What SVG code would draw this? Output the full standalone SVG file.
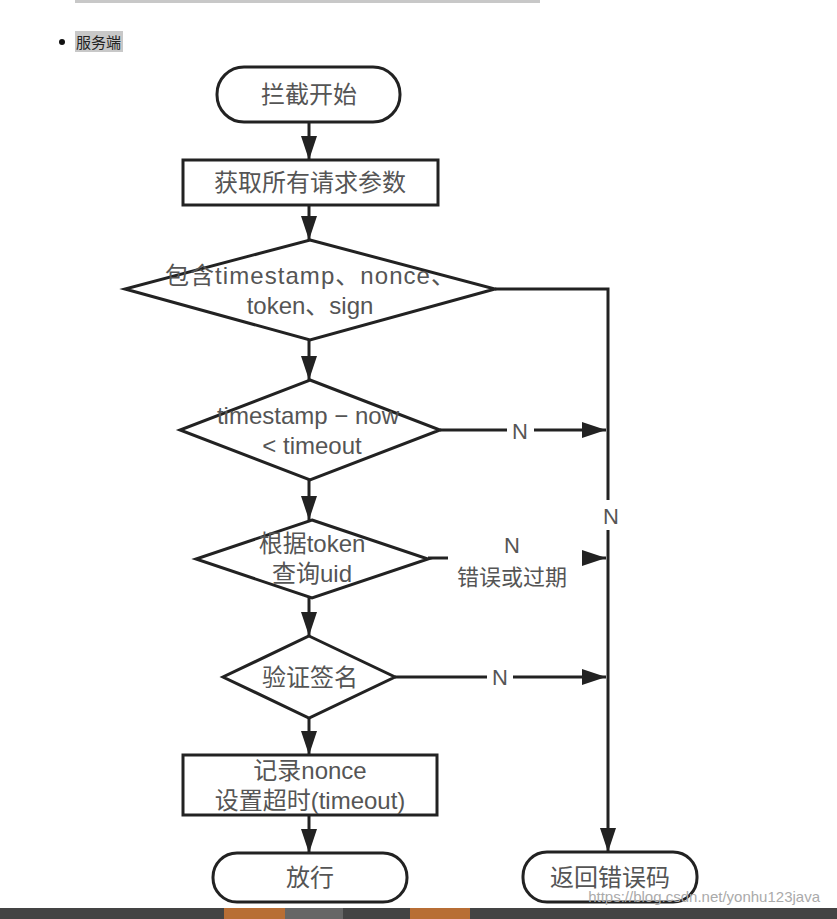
<svg xmlns="http://www.w3.org/2000/svg" width="837" height="919" viewBox="0 0 837 919">
<style>
.s{fill:#fff;stroke:#222;stroke-width:3}
.c{fill:none;stroke:#222;stroke-width:3}
.t{font-family:"Liberation Sans","Noto Sans CJK SC",sans-serif;font-size:24px;fill:#555;text-anchor:middle}
.l{font-family:"Liberation Sans","Noto Sans CJK SC",sans-serif;font-size:22px;fill:#555;text-anchor:middle}
</style>
<defs>
<marker id="a" markerUnits="userSpaceOnUse" markerWidth="24" markerHeight="18" refX="24" refY="9" orient="auto">
<path d="M0,1 L24,9 L0,17 z" fill="#222"/>
</marker>
</defs>
<rect width="837" height="919" fill="#fff"/>
<rect x="75" y="0" width="465" height="3" fill="#c8c8c8"/>
<circle cx="62" cy="42" r="3" fill="#111"/>
<rect x="75" y="31" width="48" height="21" fill="#c8c8c8"/>
<text x="76" y="48" style="font-family:'Noto Sans CJK SC',sans-serif;font-size:15px;fill:#222">服务端</text>

<g id="connectors">
<line class="c" x1="309" y1="122" x2="309" y2="160" marker-end="url(#a)"/>
<line class="c" x1="309" y1="205" x2="309" y2="240" marker-end="url(#a)"/>
<line class="c" x1="309" y1="340" x2="309" y2="380" marker-end="url(#a)"/>
<line class="c" x1="309" y1="480" x2="309" y2="520" marker-end="url(#a)"/>
<line class="c" x1="309" y1="598" x2="309" y2="636" marker-end="url(#a)"/>
<line class="c" x1="309" y1="718" x2="309" y2="755" marker-end="url(#a)"/>
<line class="c" x1="309" y1="815" x2="309" y2="853" marker-end="url(#a)"/>
<polyline class="c" points="495,289 608,289 608,500"/>
<line class="c" x1="608" y1="530" x2="608" y2="852" marker-end="url(#a)"/>
<text class="l" x="611" y="524">N</text>
<line class="c" x1="440" y1="430" x2="507" y2="430"/>
<line class="c" x1="534" y1="430" x2="606" y2="430" marker-end="url(#a)"/>
<text class="l" x="520" y="439">N</text>
<line class="c" x1="428" y1="558" x2="448" y2="558"/>
<line class="c" x1="584" y1="558" x2="606" y2="558" marker-end="url(#a)"/>
<text class="l" x="512" y="553">N</text>
<text class="l" x="512" y="585">错误或过期</text>
<line class="c" x1="395" y1="677" x2="487" y2="677"/>
<line class="c" x1="513" y1="677" x2="606" y2="677" marker-end="url(#a)"/>
<text class="l" x="500" y="685">N</text>
</g>

<g id="start"><rect class="s" x="217" y="67" width="183" height="55" rx="27"/><text class="t" x="309" y="103">拦截开始</text></g>
<g id="getParams"><rect class="s" x="183" y="160" width="255" height="45"/><text class="t" x="310" y="191">获取所有请求参数</text></g>
<g id="check1"><polygon class="s" points="310,240 495,289 310,340 125,289"/><text class="t" x="310" y="284" textLength="290">包含timestamp、nonce、</text><text class="t" x="310" y="314">token、sign</text></g>
<g id="check2"><polygon class="s" points="310,380 440,430 310,480 180,430"/><text class="t" x="308" y="424">timestamp − now</text><text class="t" x="312" y="454">&lt; timeout</text></g>
<g id="check3"><polygon class="s" points="312,520 428,559 312,598 196,559"/><text class="t" x="312" y="552">根据token</text><text class="t" x="312" y="582">查询uid</text></g>
<g id="check4"><polygon class="s" points="309,636 395,677 309,718 223,677"/><text class="t" x="310" y="686">验证签名</text></g>
<g id="record"><rect class="s" x="183" y="755" width="254" height="60"/><text class="t" x="310" y="779">记录nonce</text><text class="t" x="310" y="809">设置超时(timeout)</text></g>
<g id="pass"><rect class="s" x="213" y="853" width="194" height="49" rx="24"/><text class="t" x="310" y="886">放行</text></g>
<g id="error"><rect class="s" x="523" y="852" width="174" height="50" rx="24"/><text class="t" x="610" y="886">返回错误码</text></g>

<text x="820" y="902" style="font-family:'Liberation Sans',sans-serif;font-size:15px;fill:#aaa;text-anchor:end">https://blog.csdn.net/yonhu123java</text>
<rect x="0" y="908" width="837" height="11" fill="#444"/>
<rect x="224" y="908" width="61" height="11" fill="#b86e35"/>
<rect x="285" y="908" width="58" height="11" fill="#666"/>
<rect x="410" y="908" width="60" height="11" fill="#b86e35"/>
</svg>
